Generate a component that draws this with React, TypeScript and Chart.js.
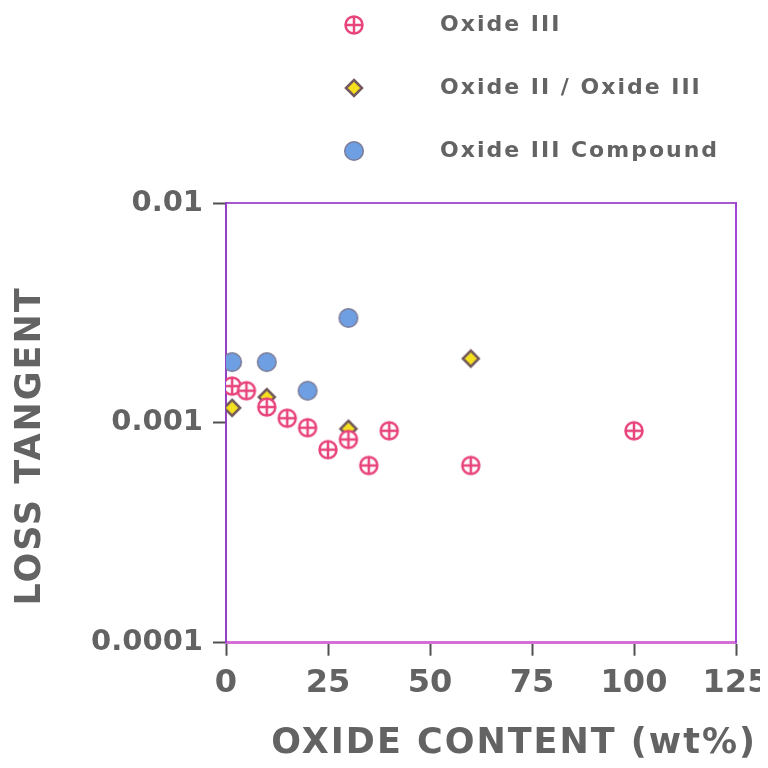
import React, { useEffect, useRef } from 'react';
import { Chart, registerables } from 'chart.js';

Chart.register(...registerables);

// ---- data ----
const seriesNames = ['Oxide III', 'Oxide II / Oxide III', 'Oxide III Compound'];
const oxide3X = [1.5, 5, 10, 15, 20, 25, 30, 35, 40, 60, 100];
const oxide3Y = [0.00147, 0.0014, 0.00118, 0.00105, 0.00095, 0.000755, 0.00084, 0.00064, 0.00092, 0.00064, 0.00092];
const mixedX = [1.5, 10, 30, 60];
const mixedY = [0.00117, 0.00131, 0.00094, 0.00196];
const compoundX = [1.5, 10, 20, 30];
const compoundY = [0.00189, 0.00189, 0.0014, 0.003];
const xTicks = [0, 25, 50, 75, 100, 125];
const yTicks = [0.0001, 0.001, 0.01];
const yTickLabels = ['0.0001', '0.001', '0.01'];
const xTitle = 'OXIDE CONTENT (wt%)';
const yTitle = 'LOSS TANGENT';

const FAMILY = "'DejaVu Sans', sans-serif";
const TEXT = '#636363';
const TICK_MARK = '#505050';
const Y_TICK_SIZE = 29;
const X_TICK_SIZE = 32;

function makeMarker(kind: string): HTMLCanvasElement {
  const c = document.createElement('canvas');
  c.width = 24;
  c.height = 24;
  const g = c.getContext('2d') as CanvasRenderingContext2D;
  if (kind === 'plus') {
    g.fillStyle = '#ffffff';
    g.strokeStyle = '#e8457c';
    g.lineWidth = 2.5;
    g.beginPath();
    g.arc(12, 12, 8.5, 0, Math.PI * 2);
    g.fill();
    g.stroke();
    g.beginPath();
    g.moveTo(3.5, 12);
    g.lineTo(20.5, 12);
    g.moveTo(12, 3.5);
    g.lineTo(12, 20.5);
    g.stroke();
  } else if (kind === 'diamond') {
    g.fillStyle = '#f4e01e';
    g.strokeStyle = '#73595b';
    g.lineWidth = 2.5;
    g.beginPath();
    g.moveTo(12, 4);
    g.lineTo(20, 12);
    g.lineTo(12, 20);
    g.lineTo(4, 12);
    g.closePath();
    g.fill();
    g.stroke();
  } else {
    g.fillStyle = '#6d9fe2';
    g.strokeStyle = '#7d7d98';
    g.lineWidth = 1.5;
    g.beginPath();
    g.arc(12, 12, 9.3, 0, Math.PI * 2);
    g.fill();
    g.stroke();
  }
  return c;
}

function pts(xs: number[], ys: number[]) {
  return xs.map((x, i) => ({ x, y: ys[i] }));
}

const legendShift = {
  id: 'legendShift',
  afterLayout(chart: any) {
    const lg = chart.legend;
    if (!lg) return;
    lg.left = 230;
    lg.top = -35;
  },
};

export default function App() {
  const ref = useRef<HTMLCanvasElement | null>(null);

  useEffect(() => {
    const canvas = ref.current;
    if (!canvas) return;
    const ctx = canvas.getContext('2d') as any;
    const desc = Object.getOwnPropertyDescriptor(CanvasRenderingContext2D.prototype, 'font') as PropertyDescriptor;
    Object.defineProperty(ctx, 'font', {
      configurable: true,
      get() {
        return desc.get!.call(ctx);
      },
      set(v: string) {
        desc.set!.call(ctx, v);
        const m = /(\d+(?:\.\d+)?)px/.exec(v);
        const size = m ? parseFloat(m[1]) : 0;
        try {
          ctx.letterSpacing = size === Y_TICK_SIZE || size === X_TICK_SIZE ? '0px' : '2px';
        } catch (e) {
          /* ignore */
        }
      },
    });

    const plus = makeMarker('plus');
    const diamond = makeMarker('diamond');
    const dot = makeMarker('dot');

    const font = (size: number, lineHeight?: number) => ({ family: FAMILY, weight: 'bold' as const, size, lineHeight: lineHeight ?? 1.2 });

    const chart = new Chart(canvas, {
      type: 'scatter',
      data: {
        datasets: [
          { label: seriesNames[0], data: pts(oxide3X, oxide3Y), pointStyle: plus, pointRadius: 10, pointHoverRadius: 10, backgroundColor: '#ffffff', borderColor: '#e8457c' },
          { label: seriesNames[1], data: pts(mixedX, mixedY), pointStyle: diamond, pointRadius: 10, pointHoverRadius: 10, backgroundColor: '#f4e01e', borderColor: '#73595b' },
          { label: seriesNames[2], data: pts(compoundX, compoundY), pointStyle: dot, pointRadius: 10, pointHoverRadius: 10, backgroundColor: '#6d9fe2', borderColor: '#7d7d98' },
        ],
      },
      options: {
        responsive: false,
        animation: false,
        devicePixelRatio: 1,
        layout: { padding: { top: 124, left: 0, right: 11, bottom: 0 } },
        plugins: {
          tooltip: { enabled: false },
          legend: {
            display: true,
            position: 'top',
            align: 'start',
            maxHeight: 71,
            labels: {
              usePointStyle: true,
              pointStyleWidth: 150,
              padding: 41,
              color: TEXT,
              font: font(22),
            },
          },
          title: {
            display: true,
            position: 'left',
            text: yTitle,
            color: TEXT,
            font: font(35, 0.9),
            padding: { top: 7.2, bottom: 20 },
          },
          subtitle: {
            display: true,
            position: 'bottom',
            align: 'end',
            text: xTitle,
            color: TEXT,
            font: font(35, 0.9),
            padding: { top: 16.4, bottom: 0 },
          },
        },
        scales: {
          x: {
            type: 'linear',
            position: 'bottom',
            min: 0,
            max: 125,
            afterBuildTicks: (s: any) => {
              s.ticks = xTicks.map((v) => ({ value: v }));
            },
            afterFit: (s: any) => {
              s.paddingLeft = 0;
              s.paddingRight = 0;
            },
            ticks: { font: font(X_TICK_SIZE), color: TEXT, padding: 9, maxRotation: 0, autoSkip: false },
            grid: { display: true, drawOnChartArea: false, drawTicks: true, tickLength: 13, tickColor: TICK_MARK, tickWidth: 2 },
            border: { display: true, color: '#d46fd6', width: 3 },
          },
          x2: {
            type: 'linear',
            position: 'top',
            min: 0,
            max: 125,
            ticks: { display: false },
            grid: { display: false, drawTicks: false },
            border: { display: true, color: '#a458d0', width: 2 },
            afterFit: (s: any) => {
              s.height = 0;
            },
          },
          y: {
            type: 'logarithmic',
            position: 'left',
            min: 0.0001,
            max: 0.01,
            afterBuildTicks: (s: any) => {
              s.ticks = yTicks.map((v) => ({ value: v }));
            },
            afterFit: (s: any) => {
              s.width = 159.3;
            },
            ticks: {
              callback: (v: any, i: number) => yTickLabels[i],
              font: font(Y_TICK_SIZE),
              color: TEXT,
              padding: 10,
              autoSkip: false,
            },
            grid: { display: true, drawOnChartArea: false, drawTicks: true, tickLength: 13, tickColor: TICK_MARK, tickWidth: 2 },
            border: { display: true, color: '#9340c8', width: 2 },
          },
          y2: {
            type: 'logarithmic',
            position: 'right',
            min: 0.0001,
            max: 0.01,
            ticks: { display: false },
            grid: { display: false, drawTicks: false },
            border: { display: true, color: '#a244d2', width: 2 },
            afterFit: (s: any) => {
              s.width = 21;
            },
          },
        },
      } as any,
      plugins: [legendShift],
    });

    return () => {
      chart.destroy();
    };
  }, []);

  return (
    <div style={{ width: 760, height: 752 }}>
      <canvas ref={ref} width={760} height={752} style={{ display: 'block', width: 760, height: 752 }} />
    </div>
  );
}
